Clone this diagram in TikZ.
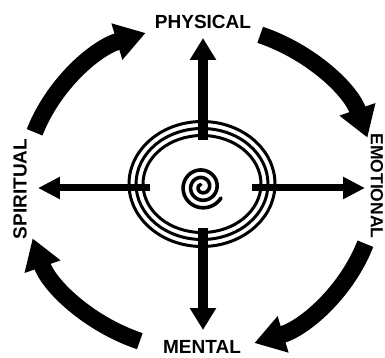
\documentclass[tikz,border=0pt]{standalone}
\usepackage{fontspec}
\setmainfont{Liberation Sans}
\usetikzlibrary{arrows.meta}

\begin{document}
\begin{tikzpicture}[x=1pt, y=1pt,
  every node/.style={font=\fontsize{19}{19}\selectfont\bfseries, inner sep=0pt},
  ring/.style={line width=3pt},
  vspoke/.style={line width=10pt, -{Triangle[width=25pt, length=22pt]}},
  hspoke/.style={line width=7pt, -{Triangle[width=21pt, length=22pt]}},
  cyclearrow/.style={line width=17pt, -{Triangle[width=36pt, length=30pt]}}]
  \useasboundingbox (-200,-170) rectangle (185,188);
  % labels
  \node (phys) at (3,166) {PHYSICAL};
  \node (ment) at (2,-159) {MENTAL};
  \node[rotate=90] (spir) at (-180,-1) {SPIRITUAL};
  \node[rotate=-90, font=\fontsize{17.5}{17.5}\selectfont\bfseries] (emot) at (177,2) {EMOTIONAL};
  % outer cycle
  \foreach \a in {160,70,-20,-110}
    \draw[cyclearrow] (\a:176 and 163) arc[start angle=\a, end angle=\a-52, x radius=176, y radius=163];
  % rings and spiral
  \coordinate (hub) at (2,4);
  \foreach \r/\s in {73/62.5, 66/55.5, 59/48.5}
    \draw[ring] (hub) ellipse[x radius=\r, y radius=\s];
  \draw[line width=3.6pt, line cap=round, domain=120:1050, samples=240, variable=\t]
    plot ({2+1.2*\t/57.3*cos(\t)}, {1+1.2*\t/57.3*sin(\t)});
  % spokes
  \coordinate (up0) at (3,48);    \coordinate (up1) at (3,150);
  \coordinate (dn0) at (3,-40);   \coordinate (dn1) at (3,-142);
  \coordinate (lt0) at (-50,0);   \coordinate (lt1) at (-162,0);
  \coordinate (rt0) at (52,0);    \coordinate (rt1) at (165,0);
  \draw[vspoke] (up0) -- (up1);
  \draw[vspoke] (dn0) -- (dn1);
  \draw[hspoke] (lt0) -- (lt1);
  \draw[hspoke] (rt0) -- (rt1);
\end{tikzpicture}
\end{document}
